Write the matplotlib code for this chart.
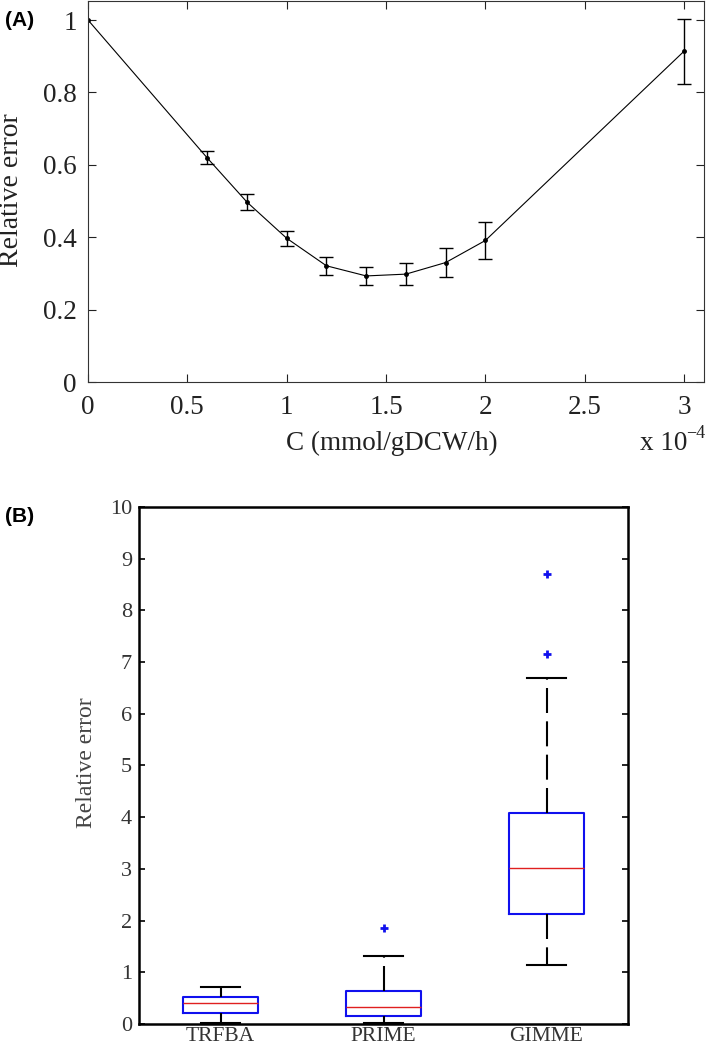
"""
Two-panel figure: relative error vs C (A) and method comparison boxplots (B)
"""
import numpy as np
import matplotlib
matplotlib.use('Agg')
import matplotlib.pyplot as plt

plt.rcParams['font.family'] = ['Liberation Serif', 'DejaVu Serif']
plt.rcParams['mathtext.fontset'] = 'stix'

# Panel A data
c_vals = [0.0, 0.6, 0.8, 1.0, 1.2, 1.4, 1.6, 1.8, 2.0, 3.0]
err_mean = [1.0, 0.619, 0.497, 0.397, 0.321, 0.293, 0.298, 0.330, 0.391, 0.914]
err_sd = [0.0, 0.018, 0.021, 0.021, 0.025, 0.025, 0.030, 0.039, 0.050, 0.090]
a_xticks = [0, 0.5, 1, 1.5, 2, 2.5, 3]
a_xticklabels = ['0', '0.5', '1', '1.5', '2', '2.5', '3']
a_yticks = [0, 0.2, 0.4, 0.6, 0.8, 1.0]
a_yticklabels = ['0', '0.2', '0.4', '0.6', '0.8', '1']

# Panel B data (box statistics)
methods = ['TRFBA', 'PRIME', 'GIMME']
q1 = [0.22, 0.16, 2.13]
med = [0.40, 0.32, 3.01]
q3 = [0.52, 0.64, 4.09]
whis_lo = [0.02, 0.02, 1.15]
whis_hi = [0.72, 1.31, 6.69]
outliers = [[], [1.86], [7.15, 8.70]]

fig = plt.figure(figsize=(7.09, 10.46), dpi=100, facecolor='white')

# ---------------- Panel A ----------------
ax1 = fig.add_axes([88/709, 1 - 382/1046, (704 - 88)/709, 381/1046])
ax1.plot(c_vals, err_mean, color='black', linewidth=0.8, marker='.',
         markersize=5)
mask = np.array(err_sd) > 0
ax1.errorbar(np.array(c_vals)[mask], np.array(err_mean)[mask],
             yerr=np.array(err_sd)[mask], fmt='none', ecolor='black',
             elinewidth=1.0, capsize=4.7, capthick=1.0)
ax1.set_xlim(0, 3.1)
ax1.set_ylim(0, 1.0525)
ax1.set_xticks(a_xticks)
ax1.set_xticklabels(a_xticklabels)
ax1.set_yticks(a_yticks)
ax1.set_yticklabels(a_yticklabels)
ax1.tick_params(direction='in', length=5.5, width=0.8, labelsize=19.5,
                top=True, right=True, colors='#222222')
ax1.tick_params(axis='x', pad=9)
ax1.tick_params(axis='y', pad=8)
for s in ax1.spines.values():
    s.set_linewidth(0.8)
    s.set_color('#333333')

fig.text(392/709, 1 - 443/1046, 'C (mmol/gDCW/h)', ha='center', va='center',
         fontsize=19.5, color='#222222')
fig.text(640/709, 1 - 443/1046, 'x 10', ha='left', va='center',
         fontsize=19.5, color='#222222')
fig.text(686/709, 1 - 433/1046, '\u22124', ha='left', va='center',
         fontsize=13, color='#222222')
fig.text(12/709, 1 - 190/1046, 'Relative error', ha='center', va='center',
         rotation=90, fontsize=20, color='#222222')
fig.text(5/709, 1 - 21/1046, '(A)', ha='left', va='center', fontsize=15,
         fontweight='bold', family=['Liberation Sans', 'DejaVu Sans'])

# ---------------- Panel B ----------------
ax2 = fig.add_axes([139/709, 1 - 1024/1046, (628 - 139)/709, (1024 - 507)/1046])
stats = []
for i, name in enumerate(methods):
    stats.append(dict(label=name, q1=q1[i], med=med[i], q3=q3[i],
                      whislo=whis_lo[i], whishi=whis_hi[i],
                      fliers=outliers[i]))
ax2.bxp(stats, positions=[1, 2, 3], widths=0.46, showfliers=True,
        boxprops=dict(color='#1010ee', linewidth=1.5),
        medianprops=dict(color='#e02020', linewidth=1.0),
        whiskerprops=dict(color='black', linewidth=1.5, linestyle=(0, (12, 4))),
        capprops=dict(color='black', linewidth=1.5),
        capwidths=0.24,
        flierprops=dict(marker='+', markeredgecolor='#1010ee',
                        markersize=6, markeredgewidth=2.0))
ax2.set_xlim(0.5, 3.5)
ax2.set_ylim(0, 10)
ax2.set_yticks(range(0, 11))
ax2.set_yticklabels([str(v) for v in range(0, 11)])
ax2.tick_params(axis='y', direction='in', length=4, width=1.2, left=True,
                right=True, labelsize=16, pad=5, labelcolor='#333333')
ax2.tick_params(axis='x', length=0, labelsize=15.5, pad=2.5, labelcolor='#333333')
for s in ax2.spines.values():
    s.set_linewidth(1.8)
    s.set_color('black')

fig.text(87/709, 1 - 763/1046, 'Relative error', ha='center', va='center',
         rotation=90, fontsize=17, color='#444444')
fig.text(5/709, 1 - 516/1046, '(B)', ha='left', va='center', fontsize=15,
         fontweight='bold', family=['Liberation Sans', 'DejaVu Sans'])

fig.savefig('out.png', dpi=100, facecolor='white')
